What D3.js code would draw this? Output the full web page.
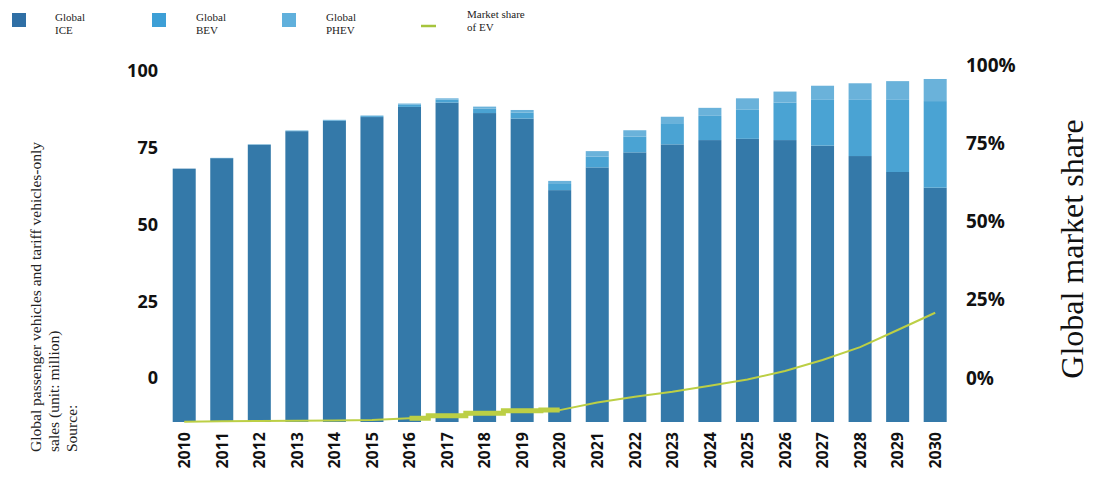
<!DOCTYPE html>
<html>
<head>
<meta charset="utf-8">
<script src="https://cdn.jsdelivr.net/npm/d3@7"></script>
<style>
  body { margin: 0; background: #fff; }
  svg { display: block; }
</style>
</head>
<body>
<script>
const w = 1098;
const h = 482;

// data (million vehicles, share in %)
const years = [2010, 2011, 2012, 2013, 2014, 2015, 2016, 2017, 2018, 2019, 2020,
               2021, 2022, 2023, 2024, 2025, 2026, 2027, 2028, 2029, 2030];
const iceSales = [68.2, 71.6, 76.0, 80.4, 83.8, 85.0, 88.3, 89.7, 86.3, 84.5, 61.2,
                  68.6, 73.5, 76.1, 77.5, 77.9, 77.5, 75.7, 72.3, 67.1, 62.0];
const bevSales = [0.0, 0.1, 0.1, 0.2, 0.2, 0.3, 0.7, 1.0, 1.5, 2.0, 2.0,
                  3.5, 5.1, 6.9, 7.9, 9.6, 12.2, 14.9, 18.3, 23.5, 28.2];
const phevSales = [0.0, 0.0, 0.0, 0.0, 0.1, 0.2, 0.4, 0.4, 0.6, 0.8, 1.0,
                   1.8, 2.1, 2.1, 2.6, 3.6, 3.6, 4.6, 5.4, 6.1, 7.2];
const evShare = [0.1, 0.2, 0.3, 0.4, 0.5, 0.6, 1.2, 2.0, 2.8, 3.6, 3.8,
                 6.2, 8.1, 9.7, 11.6, 13.6, 16.3, 19.8, 23.9, 29.4, 34.9];
const leftTicks = [0, 25, 50, 75, 100];
const rightTicks = [0, 25, 50, 75, 100];
const seriesKeys = ["ice", "bev", "phev"];
const seriesColors = ["#3479a9", "#4aa3d3", "#6ab2da"];

const rows = years.map((y, i) => ({ year: y, ice: iceSales[i], bev: bevSales[i], phev: phevSales[i] }));

const svg = d3.select("body").append("svg")
  .attr("width", w)
  .attr("height", h);

const plotBottom = 422;

const x = d3.scaleBand()
  .domain(years)
  .range([172.7, 946.7])
  .paddingInner(0.387)
  .paddingOuter(0);

const yL = d3.scaleLinear().domain([0, 100]).range([378, 71]);
const yR = d3.scaleLinear().domain([0, 100]).range([378, 65]);
const yShare = d3.scaleLinear().domain([0, 100]).range([plotBottom, plotBottom - 313]);

const color = d3.scaleOrdinal().domain(seriesKeys).range(seriesColors);

const stacked = d3.stack().keys(seriesKeys)(rows);

svg.append("g")
  .selectAll("g")
  .data(stacked)
  .enter()
  .append("g")
  .attr("fill", (d) => color(d.key))
  .selectAll("rect")
  .data((d) => d)
  .enter()
  .append("rect")
  .attr("x", (d) => x(d.data.year))
  .attr("width", x.bandwidth())
  .attr("y", (d) => yL(d[1]))
  .attr("height", (d) => {
    const bottom = d[0] === 0 ? plotBottom : yL(d[0]);
    return Math.max(0, bottom - yL(d[1]));
  });

// market share line
const shareData = years.map((y, i) => ({ year: y, v: evShare[i] }));
const lineColor = "#bccf45";

const line = d3.line()
  .x((d) => x(d.year) + x.bandwidth() / 2)
  .y((d) => yShare(d.v));

svg.append("path")
  .datum(shareData)
  .attr("fill", "none")
  .attr("stroke", lineColor)
  .attr("stroke-width", 2)
  .attr("d", line);

// thick stepped part 2016-2020
const stepLine = d3.line()
  .x((d) => x(d.year) + x.bandwidth() / 2)
  .y((d) => yShare(d.v))
  .curve(d3.curveStep);

svg.append("path")
  .datum(shareData.filter((d) => d.year >= 2016 && d.year <= 2020))
  .attr("fill", "none")
  .attr("stroke", lineColor)
  .attr("stroke-width", 5)
  .attr("d", stepLine);

// axes (labels only)
const tickFont = "'Open Sans', 'DejaVu Sans', sans-serif";

const xAxis = svg.append("g")
  .attr("transform", "translate(0," + (plotBottom + 10) + ")")
  .call(d3.axisBottom(x).tickSize(0).tickPadding(0));
xAxis.select(".domain").remove();
xAxis.selectAll("text")
  .attr("transform", "rotate(-90)")
  .attr("x", 0)
  .attr("y", 0)
  .attr("dy", "0.36em")
  .attr("text-anchor", "end")
  .attr("font-family", tickFont)
  .attr("font-weight", "bold")
  .attr("font-size", "16px")
  .attr("fill", "#111");

const leftAxis = svg.append("g")
  .attr("transform", "translate(158,0)")
  .call(d3.axisLeft(yL).tickValues(leftTicks).tickSize(0).tickPadding(0));
leftAxis.select(".domain").remove();
leftAxis.selectAll("text")
  .attr("font-family", tickFont)
  .attr("font-weight", "bold")
  .attr("font-size", "18px")
  .attr("fill", "#111");

const rightAxis = svg.append("g")
  .attr("transform", "translate(966,0)")
  .call(d3.axisRight(yR).tickValues(rightTicks).tickSize(0).tickPadding(0)
    .tickFormat((d) => d + "%"));
rightAxis.select(".domain").remove();
rightAxis.selectAll("text")
  .attr("font-family", tickFont)
  .attr("font-weight", "bold")
  .attr("font-size", "19px")
  .attr("fill", "#111");

// titles
const serif = "'Liberation Serif', 'Times New Roman', serif";

svg.append("text")
  .attr("transform", "translate(1083,249) rotate(-90)")
  .attr("text-anchor", "middle")
  .attr("font-family", serif)
  .attr("font-size", "32px")
  .attr("fill", "#111")
  .text("Global market share");

const leftTitle = ["Global passenger vehicles and tariff vehicles-only", "sales (unit: million)", "Source:"];
svg.append("g")
  .selectAll("text")
  .data(leftTitle)
  .enter()
  .append("text")
  .attr("transform", (d, i) => "translate(" + (41 + i * 18) + ",452) rotate(-90)")
  .attr("font-family", serif)
  .attr("font-size", "15.5px")
  .attr("fill", "#222")
  .text((d) => d);

// legend
const legendItems = [
  { label: ["Global", "ICE"], color: "#2f6fa5", x: 12, tx: 55 },
  { label: ["Global", "BEV"], color: "#3d9fd6", x: 152, tx: 196 },
  { label: ["Global", "PHEV"], color: "#60b0dc", x: 282, tx: 326 }
];

const legend = svg.append("g");
legend.selectAll("rect")
  .data(legendItems)
  .enter()
  .append("rect")
  .attr("x", (d) => d.x)
  .attr("y", 13)
  .attr("width", 14)
  .attr("height", 14)
  .attr("fill", (d) => d.color);

legendItems.forEach((d) => {
  d.label.forEach((t, i) => {
    legend.append("text")
      .attr("x", d.tx)
      .attr("y", 21 + i * 13)
      .attr("font-family", serif)
      .attr("font-size", "11px")
      .attr("fill", "#222")
      .text(t);
  });
});

legend.append("line")
  .attr("x1", 421).attr("x2", 436)
  .attr("y1", 26).attr("y2", 26)
  .attr("stroke", "#a6c43c")
  .attr("stroke-width", 2.5);

["Market share", "of EV"].forEach((t, i) => {
  legend.append("text")
    .attr("x", 467)
    .attr("y", 18 + i * 13)
    .attr("font-family", serif)
    .attr("font-size", "11px")
    .attr("fill", "#222")
    .text(t);
});
</script>
</body>
</html>
